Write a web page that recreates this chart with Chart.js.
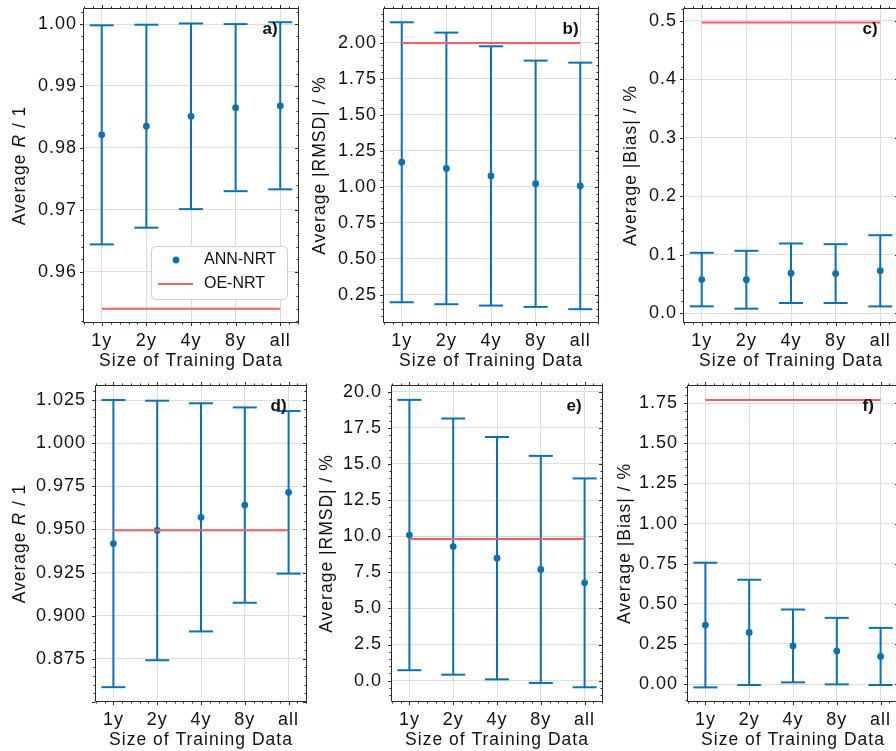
<!DOCTYPE html>
<html><head><meta charset="utf-8">
<script src="https://cdn.jsdelivr.net/npm/chart.js@4.4.1/dist/chart.umd.min.js"></script>
<style>
html,body{margin:0;padding:0;background:#ffffff;}
body{width:896px;height:751px;overflow:hidden;position:relative;}
canvas{position:absolute;}
</style></head><body>
<script>
// ---------- data ----------
const categories = ['1y', '2y', '4y', '8y', 'all'];

const meanA = [0.9821, 0.9835, 0.9851, 0.9865, 0.9868];
const errA  = [0.0177, 0.0164, 0.0150, 0.0135, 0.0135];
const oeA   = 0.9540;
const yTicksA = [0.96, 0.97, 0.98, 0.99, 1.00];

const meanB = [1.1705, 1.1277, 1.0755, 1.0211, 1.0060];
const errB  = [0.9732, 0.9442, 0.9013, 0.8561, 0.8570];
const oeB   = 2.00;
const yTicksB = [0.25, 0.50, 0.75, 1.00, 1.25, 1.50, 1.75, 2.00];

const meanC = [0.0572, 0.0569, 0.0680, 0.0674, 0.0722];
const errC  = [0.0458, 0.0495, 0.0509, 0.0503, 0.0609];
const oeC   = 0.497;
const yTicksC = [0.0, 0.1, 0.2, 0.3, 0.4, 0.5];

const meanD = [0.9418, 0.9494, 0.9570, 0.9641, 0.9715];
const errD  = [0.0832, 0.0752, 0.0661, 0.0566, 0.0471];
const oeD   = 0.9495;
const yTicksD = [0.875, 0.900, 0.925, 0.950, 0.975, 1.000, 1.025];

const meanE = [10.08, 9.28, 8.48, 7.70, 6.77];
const errE  = [9.36, 8.87, 8.39, 7.86, 7.23];
const oeE   = 9.81;
const yTicksE = [0.0, 2.5, 5.0, 7.5, 10.0, 12.5, 15.0, 17.5, 20.0];

const meanF = [0.3677, 0.3219, 0.2375, 0.2052, 0.1719];
const errF  = [0.3885, 0.3281, 0.2271, 0.2073, 0.1781];
const oeF   = 1.771;
const yTicksF = [0.00, 0.25, 0.50, 0.75, 1.00, 1.25, 1.50, 1.75];

const seriesNames = ['ANN-NRT', 'OE-NRT'];
const xTitle = 'Size of Training Data';
const titleR = [['Average ', false], ['R', true], [' / 1', false]];
const titleRMSD = [['Average |RMSD| / %', false]];
const titleBias = [['Average |Bias| / %', false]];

// ---------- style ----------
const FONT_FAMILY = '"Liberation Sans", Arial, sans-serif';
const TEXT_COLOR = '#111111';
const BLUE = '#0a72b3';
const RED = '#ff5c5c';
const GRID = '#dcdcdc';
const FRAME = '#2a2a2a';
const LS = '1px';
const X_MIN = -0.42, X_MAX = 4.42;
const PAD_TOP = 30, PAD_RIGHT = 12, Y_W = 90, X_H = 50;
const TK_MAJ = 3.5, TK_MIN = 2;

const panels = [
  {mean: meanA, err: errA, oe: oeA, yTicks: yTicksA, dec: 2, yMin: 0.9517, yMax: 1.0026, title: titleR,    tag: 'a)', L: 83,  T: 8,   R: 301,   B: 323, titleOff: 63, tickPad: 6, legend: true},
  {mean: meanB, err: errB, oe: oeB, yTicks: yTicksB, dec: 2, yMin: 0.053,  yMax: 2.243,  title: titleRMSD, tag: 'b)', L: 383, T: 8,   R: 601,   B: 323, titleOff: 63, tickPad: 6},
  {mean: meanC, err: errC, oe: oeC, yTicks: yTicksC, dec: 1, yMin: -0.0171,yMax: 0.5217, title: titleBias, tag: 'c)', L: 683, T: 8,   R: 901,   B: 323, titleOff: 52, tickPad: 6},
  {mean: meanD, err: errD, oe: oeD, yTicks: yTicksD, dec: 3, yMin: 0.8500, yMax: 1.0337, title: titleR,    tag: 'd)', L: 95,  T: 385, R: 308.5, B: 702, titleOff: 75, tickPad: 9},
  {mean: meanE, err: errE, oe: oeE, yTicks: yTicksE, dec: 1, yMin: -1.48,  yMax: 20.47,  title: titleRMSD, tag: 'e)', L: 391, T: 385, R: 604.5, B: 702, titleOff: 64, tickPad: 9},
  {mean: meanF, err: errF, oe: oeF, yTicks: yTicksF, dec: 2, yMin: -0.112, yMax: 1.864,  title: titleBias, tag: 'f)', L: 687, T: 385, R: 900.5, B: 702, titleOff: 62, tickPad: 9}
];

function splitTicks(majors, min, max) {
  const step = majors[1] - majors[0], ms = step / 5;
  const k0 = Math.ceil((min - majors[0]) / ms - 1e-9), k1 = Math.floor((max - majors[0]) / ms + 1e-9);
  const major = [], minor = [];
  for (let k = k0; k <= k1; k++) {
    const v = majors[0] + k * ms;
    if ((((k % 5) + 5) % 5) === 0) major.push(v); else minor.push(v);
  }
  return {major, minor};
}

function makeDeco(cfg) {
  return {
    id: 'deco',
    beforeLayout(chart) { chart.ctx.letterSpacing = LS; },
    beforeDraw(chart) { chart.ctx.letterSpacing = LS; },
    afterDraw(chart) {
      const ctx = chart.ctx, a = chart.chartArea, xs = chart.scales.x, ys = chart.scales.y;
      const l = Math.round(a.left) + 0.5, r = Math.round(a.right) - 0.5;
      const t = Math.round(a.top) + 0.5, b = Math.round(a.bottom) - 0.5;
      ctx.save();
      ctx.letterSpacing = '0px';
      // frame
      ctx.strokeStyle = FRAME; ctx.lineWidth = 1;
      ctx.beginPath(); ctx.rect(l, t, r - l, b - t); ctx.stroke();
      // ticks
      const yt = splitTicks(cfg.yTicks, ys.min, ys.max);
      const xt = splitTicks(categories.map((c, i) => i), xs.min, xs.max);
      ctx.beginPath();
      const yTick = (v, len) => {
        const py = Math.round(ys.getPixelForValue(v)) + 0.5;
        ctx.moveTo(l - len, py); ctx.lineTo(l, py);
        ctx.moveTo(r, py); ctx.lineTo(r - len, py);
      };
      const xTick = (v, len) => {
        const px = Math.round(xs.getPixelForValue(v)) + 0.5;
        ctx.moveTo(px, b); ctx.lineTo(px, b + len);
        ctx.moveTo(px, t); ctx.lineTo(px, t - len);
      };
      yt.major.forEach(v => yTick(v, TK_MAJ));
      yt.minor.forEach(v => yTick(v, TK_MIN));
      xt.major.forEach(v => xTick(v, TK_MAJ));
      xt.minor.forEach(v => xTick(v, TK_MIN));
      ctx.stroke();

      // y-axis title with mixed italic
      ctx.letterSpacing = LS;
      ctx.fillStyle = TEXT_COLOR;
      ctx.textBaseline = 'middle'; ctx.textAlign = 'left';
      const cx = a.left - cfg.titleOff, cy = (a.top + a.bottom) / 2;
      ctx.save();
      ctx.translate(cx, cy); ctx.rotate(-Math.PI / 2);
      const widths = cfg.title.map(s => { ctx.font = (s[1] ? 'italic ' : '') + '17.5px ' + FONT_FAMILY; return ctx.measureText(s[0]).width; });
      let x = -widths.reduce((p, q) => p + q, 0) / 2;
      cfg.title.forEach((s, i) => { ctx.font = (s[1] ? 'italic ' : '') + '17.5px ' + FONT_FAMILY; ctx.fillText(s[0], x, 0); x += widths[i]; });
      ctx.restore();

      // panel tag
      ctx.font = 'bold 17px ' + FONT_FAMILY;
      ctx.letterSpacing = '0px';
      ctx.textAlign = 'left'; ctx.textBaseline = 'middle';
      ctx.fillText(cfg.tag, a.right - 36.5, a.top + 21);

      // legend
      if (cfg.legend) {
        const bx = a.left + 68.5, by = a.top + 238.5, bw = 136, bh = 53;
        ctx.beginPath(); ctx.roundRect(bx, by, bw, bh, 4);
        ctx.fillStyle = 'rgba(255,255,255,0.92)'; ctx.fill();
        ctx.strokeStyle = '#d0d0d0'; ctx.lineWidth = 1; ctx.stroke();
        ctx.beginPath(); ctx.arc(a.left + 93, a.top + 252, 3.4, 0, Math.PI * 2);
        ctx.fillStyle = BLUE; ctx.fill();
        ctx.beginPath(); ctx.moveTo(a.left + 75, a.top + 276); ctx.lineTo(a.left + 110, a.top + 276);
        ctx.strokeStyle = RED; ctx.lineWidth = 2; ctx.stroke();
        ctx.font = '16px ' + FONT_FAMILY; ctx.fillStyle = TEXT_COLOR;
        ctx.fillText(seriesNames[0], a.left + 121, a.top + 252);
        ctx.fillText(seriesNames[1], a.left + 121, a.top + 276);
      }
      ctx.restore();
    }
  };
}

function makePanel(cfg) {
  const canvas = document.createElement('canvas');
  const cw = Math.ceil(Y_W + (cfg.R - cfg.L) + PAD_RIGHT);
  const ch = Math.ceil(PAD_TOP + (cfg.B - cfg.T) + X_H);
  canvas.width = cw; canvas.height = ch;
  canvas.style.width = cw + 'px'; canvas.style.height = ch + 'px';
  canvas.style.left = (cfg.L - Y_W) + 'px';
  canvas.style.top = (cfg.T - PAD_TOP) + 'px';
  document.body.appendChild(canvas);
  const padR = cw - Y_W - (cfg.R - cfg.L);

  const lo = cfg.mean.map((m, i) => m - cfg.err[i]);
  const hi = cfg.mean.map((m, i) => m + cfg.err[i]);
  const bars = [];
  cfg.mean.forEach((m, i) => { bars.push({x: i, y: lo[i]}, {x: i, y: hi[i]}, {x: i + 0.5, y: null}); });
  const caps = [];
  cfg.mean.forEach((m, i) => { caps.push({x: i, y: lo[i]}, {x: i, y: hi[i]}); });
  const pts = cfg.mean.map((m, i) => ({x: i, y: m}));
  const oeLine = [{x: 0, y: cfg.oe}, {x: categories.length - 1, y: cfg.oe}];

  const tickFont = {family: FONT_FAMILY, size: 18};
  const titleFont = {family: FONT_FAMILY, size: 17.5};
  new Chart(canvas, {
    type: 'scatter',
    data: {datasets: [
      {label: seriesNames[1], data: oeLine, showLine: true, borderColor: RED, borderWidth: 2, pointRadius: 0, order: 0},
      {label: seriesNames[0], data: pts, pointRadius: 3.4, pointBackgroundColor: BLUE, pointBorderColor: BLUE, pointBorderWidth: 0, order: 1},
      {label: 'caps', data: caps, pointStyle: 'line', pointRadius: 12, pointBorderColor: BLUE, pointBorderWidth: 2, order: 2},
      {label: 'bars', data: bars, showLine: true, spanGaps: false, borderColor: BLUE, borderWidth: 2, pointRadius: 0, order: 3}
    ]},
    options: {
      responsive: false, animation: false, events: [],
      devicePixelRatio: 1,
      layout: {padding: {left: 0, top: PAD_TOP, right: padR, bottom: 0}},
      plugins: {legend: {display: false}, tooltip: {enabled: false}},
      scales: {
        x: {
          type: 'linear', min: X_MIN, max: X_MAX,
          afterBuildTicks: s => { s.ticks = categories.map((c, i) => ({value: i})); },
          afterFit: s => { s.height = X_H; },
          ticks: {callback: v => categories[v], font: tickFont, color: TEXT_COLOR, padding: 7, maxRotation: 0, autoSkip: false},
          grid: {color: GRID, lineWidth: 1, drawTicks: false},
          border: {display: false},
          title: {display: true, text: xTitle, font: titleFont, color: TEXT_COLOR, padding: {top: 0, bottom: 1}}
        },
        y: {
          type: 'linear', min: cfg.yMin, max: cfg.yMax,
          afterBuildTicks: s => { s.ticks = cfg.yTicks.map(v => ({value: v})); },
          afterFit: s => { s.width = Y_W; },
          ticks: {callback: v => v.toFixed(cfg.dec), font: tickFont, color: TEXT_COLOR, padding: cfg.tickPad, autoSkip: false},
          grid: {color: GRID, lineWidth: 1, drawTicks: false},
          border: {display: false}
        }
      }
    },
    plugins: [makeDeco(cfg)]
  });
}

panels.forEach(makePanel);
</script>
</body></html>
